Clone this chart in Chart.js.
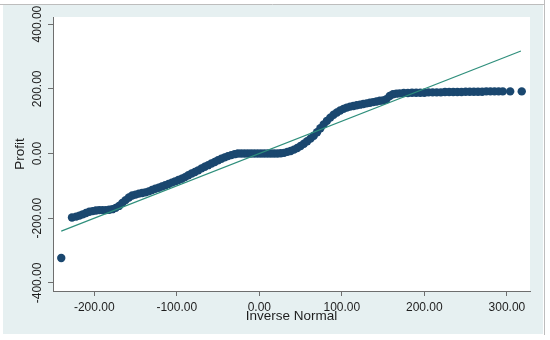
<!DOCTYPE html>
<html>
<head>
<meta charset="utf-8">
<script src="https://cdn.jsdelivr.net/npm/chart.js@4/dist/chart.umd.min.js"></script>
<style>
  html, body { margin: 0; padding: 0; background: #fff; }
  #wrap { width: 550px; height: 340px; }
</style>
</head>
<body>
<div id="wrap"><canvas id="qqchart" width="550" height="340"></canvas></div>
<script>
const quantiles = [-240, -227, -222, -218, -214, -210, -206, -202, -198, -194, -190, -186, -182, -178,
    -174, -170, -166, -162, -158, -154, -150, -146, -142, -138, -134, -130, -126, -122, -118, -114,
    -110, -106, -102, -98, -94, -90, -86, -82, -78, -74, -70, -66, -62, -58, -54, -50, -46, -42, -38,
    -34, -30, -26, -22, -18, -14, -10, -6, -2, 2, 6, 10, 14, 18, 22, 26, 30, 34, 38, 42, 46, 50, 54,
    58, 62, 66, 70, 74, 78, 82, 86, 90, 94, 98, 102, 106, 110, 114, 118, 122, 126, 130, 134, 138, 142,
    146, 150, 154, 158, 162, 166, 170, 175, 180, 185, 190, 195, 200, 205, 210, 215, 220, 225, 230,
    235, 240, 245, 250, 255, 260, 265, 270, 275, 280, 285, 290, 295, 304, 318];
const profit = [-323, -198, -195, -192, -188, -184, -180, -178, -176, -175, -175, -175, -174, -172,
    -168, -162, -153, -144, -136, -130, -127, -124, -122, -120, -117, -113, -109, -106, -102, -98,
    -94, -90, -86, -82, -78, -73, -67, -62, -57, -52, -46, -41, -36, -31, -26, -21, -16, -12, -8,
    -5, -2, 0, 0, 0, 0, 0, 0, 0, 0, 0, 0, 0, 0, 0, 1, 2, 5, 8, 12, 17, 23, 30,
    38, 46, 55, 66, 78, 90, 101, 111, 120, 127, 133, 138, 142, 145, 147, 149, 151, 153, 155, 157, 159, 161,
    163, 164, 168, 178, 183, 185, 186, 187, 187, 188, 188, 188, 188, 189, 189, 189, 189, 190, 190,
    190, 190, 190, 191, 191, 191, 191, 191, 192, 192, 192, 192, 192, 192, 192];

// reference (fitted) line end points
const fitX = [-240, 317];
const fitY = [-240, 317];

const xTicks = [-200, -100, 0, 100, 200, 300];
const yTicks = [-400, -200, 0, 200, 400];

const navy = '#1a476f';
const teal = '#2f8f7c';
const axisGray = '#6e6e6e';
const txt = '#1e1e1e';
const tickFont = { family: 'Liberation Sans, Arial, sans-serif', size: 12 };
const titleFont = { family: 'Liberation Sans, Arial, sans-serif', size: 13.5 };

// light blue graph region and white plot region, like the Stata scheme
const backdrop = {
    id: 'backdrop',
    beforeDraw(chart) {
        const c = chart.ctx;
        const a = chart.chartArea;
        c.save();
        c.fillStyle = '#ffffff';
        c.fillRect(0, 0, chart.width, chart.height);
        c.fillStyle = '#e6f0f1';
        c.fillRect(3, 5, 540, 329);
        c.fillStyle = '#ffffff';
        c.fillRect(a.left, a.top, a.right - a.left, a.bottom - a.top);
        c.strokeStyle = '#bdbdbd';
        c.lineWidth = 1;
        c.beginPath();
        c.moveTo(0, 4.5);
        c.lineTo(545, 4.5);
        c.moveTo(544.5, 0);
        c.lineTo(544.5, 335);
        c.stroke();
        c.restore();
    }
};

const pts = quantiles.map((q, i) => ({ x: q, y: profit[i] }));
const fit = fitX.map((q, i) => ({ x: q, y: fitY[i] }));

new Chart(document.getElementById('qqchart'), {
    type: 'scatter',
    data: {
        datasets: [{
            type: 'line',
            data: fit,
            borderColor: teal,
            borderWidth: 1.2,
            pointRadius: 0,
            fill: false,
            order: 0
        }, {
            data: pts,
            backgroundColor: navy,
            borderWidth: 0,
            pointRadius: 4.2,
            order: 1
        }]
    },
    options: {
        responsive: false,
        animation: false,
        events: [],
        layout: { padding: { left: 4, top: 17, right: 20, bottom: 6 } },
        plugins: { legend: { display: false }, tooltip: { enabled: false } },
        scales: {
            x: {
                type: 'linear',
                min: -250,
                max: 328,
                afterBuildTicks: s => { s.ticks = xTicks.map(v => ({ value: v })); },
                afterFit: s => { s.height = 43; },
                grid: { drawOnChartArea: false, tickLength: 5, color: axisGray },
                border: { color: axisGray, width: 1 },
                ticks: {
                    autoSkip: false,
                    maxRotation: 0,
                    padding: 4,
                    color: txt,
                    font: tickFont,
                    callback: v => v.toFixed(2)
                },
                title: {
                    display: true,
                    text: 'Inverse Normal',
                    color: txt,
                    font: titleFont,
                    padding: { top: 0, bottom: 10 }
                }
            },
            y: {
                type: 'linear',
                min: -425,
                max: 422,
                afterBuildTicks: s => { s.ticks = yTicks.map(v => ({ value: v })); },
                afterFit: s => { s.width = 49; },
                grid: { drawOnChartArea: false, tickLength: 5, color: axisGray },
                border: { color: axisGray, width: 1 },
                ticks: {
                    autoSkip: false,
                    minRotation: 90,
                    maxRotation: 90,
                    crossAlign: 'center',
                    padding: -10,
                    color: txt,
                    font: tickFont,
                    callback: v => v.toFixed(2)
                },
                title: {
                    display: true,
                    text: 'Profit',
                    color: txt,
                    font: titleFont,
                    padding: { top: 8, bottom: 0 }
                }
            }
        }
    },
    plugins: [backdrop]
});
</script>
</body>
</html>
